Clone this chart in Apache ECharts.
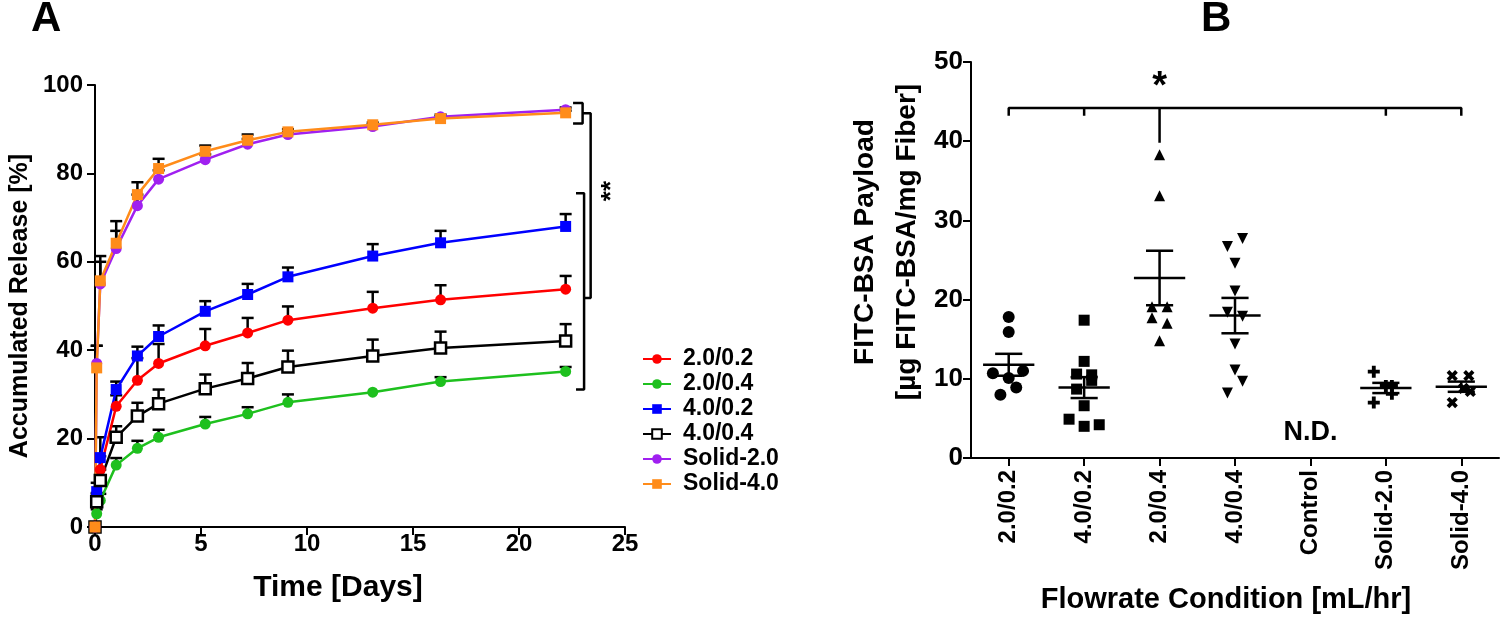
<!DOCTYPE html>
<html>
<head>
<meta charset="utf-8">
<script src="https://cdn.jsdelivr.net/npm/echarts@6/dist/echarts.min.js"></script>
<style>
  html, body { margin: 0; padding: 0; background: #fff; }
  #chart { width: 1500px; height: 622px; }
</style>
</head>
<body>
<div id="chart"></div>
<script>
// panel A: accumulated release over time
var days = [0, 0.08, 0.25, 1, 2, 3, 5.2, 7.2, 9.1, 13.1, 16.3, 22.2];
var red20_02   = [0, 6, 13, 27.3, 33.2, 37.0, 41.0, 43.9, 46.8, 49.5, 51.4, 53.8];
var green20_04 = [0, 3, 6, 14.0, 17.8, 20.3, 23.3, 25.6, 28.2, 30.5, 32.9, 35.2];
var blue40_02  = [0, 8, 15.7, 31.1, 38.7, 43.1, 48.8, 52.6, 56.6, 61.3, 64.3, 68.0];
var black40_04 = [0, 5.7, 10.5, 20.3, 25.1, 27.9, 31.3, 33.6, 36.2, 38.7, 40.5, 42.1];
var solid20    = [0, 37, 55, 63, 72.7, 78.7, 83.1, 86.6, 88.8, 90.6, 92.8, 94.4];
var solid40    = [0, 36, 55.7, 64.2, 75.2, 81.1, 85.0, 87.5, 89.4, 91.0, 92.4, 93.7];

var errRed20_02   = [0, 1.5, 3, 2.5, 5, 4.4, 3.8, 3.4, 3.1, 3.7, 3.3, 3.0];
var errGreen20_04 = [0, 1, 1.5, 1.6, 1.7, 1.7, 1.6, 1.5, 1.8, 0.3, 1.0, 1.0];
var errBlue40_02  = [0, 2, 4.6, 1.8, 2.1, 2.5, 2.3, 2.4, 2.1, 2.7, 2.7, 2.8];
var errBlack40_04 = [0, 2, 2.5, 2.5, 3.0, 3.2, 3.2, 3.5, 3.7, 3.7, 3.7, 3.8];
var errSolid20    = [0, 4, 5, 4, 2.5, 2, 1.2, 1.2, 0.5, 0.5, 0.5, 0.5];
var errSolid40    = [0, 5, 5.6, 5.0, 2.8, 2.2, 1.3, 1.3, 0.6, 0.5, 0.5, 0.5];

// panel B: payload per flowrate condition
var conditions = ['2.0/0.2', '4.0/0.2', '2.0/0.4', '4.0/0.4', 'Control', 'Solid-2.0', 'Solid-4.0'];
var pay20_02 = [17.8, 15.9, 11.0, 10.7, 10.1, 8.9, 8.0];
var pay40_02 = [17.4, 12.2, 10.6, 10.5, 9.8, 8.7, 6.6, 4.9, 4.0, 4.2];
var pay20_04 = [38.3, 33.1, 19.1, 19.1, 17.7, 17.0, 14.8];
var pay40_04 = [27.7, 26.7, 24.6, 21.1, 18.4, 17.9, 14.4, 11.1, 9.7, 8.2];
var payControl = [];
var paySolid20 = [10.9, 9.1, 9.1, 8.1, 7.0];
var paySolid40 = [10.4, 10.4, 8.8, 8.4, 7.0];
// horizontal scatter offsets (category widths)
var jit20_02 = [0, 0, 0.19, -0.21, 0, 0.1, -0.11];
var jit40_02 = [0, 0, -0.1, 0.1, 0.1, -0.1, 0, -0.2, 0, 0.2];
var jit20_04 = [0, 0, -0.1, 0.1, -0.1, 0.1, 0];
var jit40_04 = [0.1, -0.1, 0, 0, -0.1, 0.1, 0, 0, 0.1, -0.1];
var jitSolid20 = [-0.16, 0, 0.08, 0.08, -0.16];
var jitSolid40 = [-0.12, 0.1, 0.03, 0.12, -0.12];

var FONT = '"Liberation Sans", Arial, sans-serif';
var PLUS = 'path://M3.4,0H6.6V3.4H10V6.6H6.6V10H3.4V6.6H0V3.4H3.4Z';
var chart = echarts.init(document.getElementById('chart'));

function lineSeries(name, vals, color, symbol, hollow) {
  return {
    name: name, type: 'line', xAxisIndex: 0, yAxisIndex: 0,
    data: days.map(function (d, i) { return [d, vals[i]]; }),
    symbol: symbol, symbolSize: 11,
    lineStyle: { color: color, width: 2.5 },
    itemStyle: hollow ? { color: '#fff', borderColor: color, borderWidth: 2.5 } : { color: color },
    z: 3, animation: false
  };
}

function errSeries(name, vals, errs) {
  return {
    name: name + ' err', type: 'custom', xAxisIndex: 0, yAxisIndex: 0,
    data: days.map(function (d, i) { return [d, vals[i], vals[i] + errs[i]]; }),
    renderItem: function (params, api) {
      if (api.value(2) - api.value(1) < 0.4) return null;
      var p0 = api.coord([api.value(0), api.value(1)]);
      var p1 = api.coord([api.value(0), api.value(2)]);
      var st = { stroke: '#000', lineWidth: 2.5 };
      return { type: 'group', children: [
        { type: 'line', shape: { x1: p0[0], y1: p0[1], x2: p1[0], y2: p1[1] }, style: st },
        { type: 'line', shape: { x1: p1[0] - 6, y1: p1[1], x2: p1[0] + 6, y2: p1[1] }, style: st }
      ] };
    },
    z: 2, silent: true, animation: false
  };
}

function groupSeries(name, vals, jit, idx, symbol, size, rotate) {
  return {
    name: name, type: 'scatter', xAxisIndex: 2, yAxisIndex: 1,
    data: vals.map(function (v, i) { return [idx + jit[i], v]; }),
    symbol: symbol, symbolSize: size, symbolRotate: rotate || 0,
    itemStyle: { color: '#000', opacity: 1 }, z: 3, animation: false
  };
}

function meanSem(vals) {
  var n = vals.length, m = 0, s = 0;
  vals.forEach(function (v) { m += v; });
  m /= n;
  vals.forEach(function (v) { s += (v - m) * (v - m); });
  return [m, Math.sqrt(s / (n - 1)) / Math.sqrt(n)];
}

var groups = [pay20_02, pay40_02, pay20_04, pay40_04, payControl, paySolid20, paySolid40];
var statData = [];
groups.forEach(function (g, i) {
  if (g.length) { var ms = meanSem(g); statData.push([i, ms[0], ms[1]]); }
});

function bracket(points, xi, yi) {
  return {
    type: 'line', xAxisIndex: xi, yAxisIndex: yi, data: points, symbol: 'none',
    lineStyle: { color: '#000', width: 2.5 }, silent: true, animation: false, z: 4
  };
}

function textMark(text, pos, xi, yi, size, rotate) {
  return {
    type: 'scatter', xAxisIndex: xi, yAxisIndex: yi, data: [pos], symbolSize: 0,
    itemStyle: { opacity: 1 },
    label: { show: true, position: 'inside', formatter: text, rotate: rotate || 0,
      fontFamily: FONT, fontWeight: 'bold', fontSize: size, color: '#000', opacity: 1 },
    silent: true, animation: false
  };
}

var axisLine = { show: true, onZero: false, lineStyle: { color: '#000', width: 2 } };
var axisTick = { show: true, length: 8, lineStyle: { color: '#000', width: 2 } };
var tickFont = { fontFamily: FONT, fontWeight: 'bold', fontSize: 24, color: '#000' };

var option = {
  backgroundColor: '#fff',
  animation: false,
  textStyle: { fontFamily: FONT },
  graphic: [
    { type: 'text', left: 31, top: -2, style: { text: 'A', fontFamily: FONT, fontWeight: 'bold', fontSize: 42, fill: '#000' } },
    { type: 'text', left: 1201, top: -2, style: { text: 'B', fontFamily: FONT, fontWeight: 'bold', fontSize: 42, fill: '#000' } }
  ],
  legend: {
    orient: 'vertical', left: 637, top: 342,
    data: ['2.0/0.2', '2.0/0.4', '4.0/0.2', '4.0/0.4', 'Solid-2.0', 'Solid-4.0'],
    itemWidth: 28, itemHeight: 12, itemGap: 1,
    textStyle: { fontFamily: FONT, fontWeight: 'bold', fontSize: 23, color: '#000', lineHeight: 24, padding: [0, 0, 0, 7] }
  },
  grid: [
    { left: 95, top: 85, width: 530, height: 442 },
    { left: 971, top: 62, width: 528, height: 396 }
  ],
  xAxis: [
    { type: 'value', gridIndex: 0, min: 0, max: 25, interval: 5,
      name: 'Time [Days]', nameLocation: 'middle', nameGap: 46,
      nameTextStyle: { fontFamily: FONT, fontWeight: 'bold', fontSize: 30, color: '#000', padding: [0, 44, 0, 0] },
      axisLine: axisLine, axisTick: axisTick, splitLine: { show: false },
      axisLabel: Object.assign({ margin: 5 }, tickFont) },
    { type: 'category', gridIndex: 1, data: conditions, boundaryGap: true,
      name: 'Flowrate Condition [mL/hr]', nameLocation: 'middle', nameGap: 127,
      nameTextStyle: { fontFamily: FONT, fontWeight: 'bold', fontSize: 29, color: '#000', padding: [0, 18, 0, 0] },
      axisLine: axisLine, axisTick: { show: true, alignWithLabel: true, length: 8, lineStyle: { color: '#000', width: 2 } },
      axisLabel: Object.assign({ rotate: 90, margin: 12, interval: 0 }, tickFont) },
    { type: 'value', gridIndex: 1, min: -0.5, max: 6.5, show: false }
  ],
  yAxis: [
    { type: 'value', gridIndex: 0, min: 0, max: 100, interval: 20,
      name: 'Accumulated Release [%]', nameLocation: 'middle', nameGap: 62, nameRotate: 90,
      nameTextStyle: { fontFamily: FONT, fontWeight: 'bold', fontSize: 25, color: '#000' },
      axisLine: axisLine, axisTick: axisTick, splitLine: { show: false },
      axisLabel: Object.assign({ margin: 12 }, tickFont) },
    { type: 'value', gridIndex: 1, min: 0, max: 50, interval: 10,
      name: 'FITC-BSA Payload\n[\u00b5g FITC-BSA/mg Fiber]', nameLocation: 'middle', nameGap: 43, nameRotate: 90,
      nameTextStyle: { fontFamily: FONT, fontWeight: 'bold', fontSize: 28, color: '#000', lineHeight: 42, padding: [0, 0, 0, 36] },
      axisLine: axisLine, axisTick: axisTick, splitLine: { show: false },
      axisLabel: Object.assign({}, tickFont, { margin: 8, fontSize: 26 }) }
  ],
  series: [
    errSeries('2.0/0.2', red20_02, errRed20_02),
    errSeries('2.0/0.4', green20_04, errGreen20_04),
    errSeries('4.0/0.2', blue40_02, errBlue40_02),
    errSeries('4.0/0.4', black40_04, errBlack40_04),
    errSeries('Solid-2.0', solid20, errSolid20),
    errSeries('Solid-4.0', solid40, errSolid40),
    lineSeries('2.0/0.2', red20_02, '#ff0000', 'circle'),
    lineSeries('2.0/0.4', green20_04, '#1ec01e', 'circle'),
    lineSeries('4.0/0.2', blue40_02, '#0000ff', 'rect'),
    lineSeries('4.0/0.4', black40_04, '#000000', 'rect', true),
    lineSeries('Solid-2.0', solid20, '#a020f0', 'circle'),
    lineSeries('Solid-4.0', solid40, '#ff8c1a', 'rect'),
    bracket([[22.55, 95.9], [23.0, 95.9], [23.0, 91.3], [22.55, 91.3]], 0, 0),
    bracket([[23.0, 93.6], [23.38, 93.6], [23.38, 51.8], [23.07, 51.8]], 0, 0),
    bracket([[22.69, 75.5], [23.07, 75.5], [23.07, 31.1], [22.69, 31.1]], 0, 0),
    textMark('**', [24.4, 76], 0, 0, 26, 90),

    groupSeries('2.0/0.2 pts', pay20_02, jit20_02, 0, 'circle', 12),
    groupSeries('4.0/0.2 pts', pay40_02, jit40_02, 1, 'rect', 11),
    groupSeries('2.0/0.4 pts', pay20_04, jit20_04, 2, 'triangle', 11),
    groupSeries('4.0/0.4 pts', pay40_04, jit40_04, 3, 'triangle', 11, 180),
    groupSeries('Solid-2.0 pts', paySolid20, jitSolid20, 5, PLUS, 12),
    groupSeries('Solid-4.0 pts', paySolid40, jitSolid40, 6, PLUS, 12, 45),
    {
      name: 'mean sem', type: 'custom', xAxisIndex: 2, yAxisIndex: 1, data: statData,
      renderItem: function (params, api) {
        var i = api.value(0), m = api.value(1), s = api.value(2);
        var a = api.coord([i - 0.34, m]), b = api.coord([i + 0.34, m]);
        var t0 = api.coord([i - 0.18, m + s]), t1 = api.coord([i + 0.18, m + s]);
        var b0 = api.coord([i - 0.18, m - s]), b1 = api.coord([i + 0.18, m - s]);
        var st = { stroke: '#000', lineWidth: 2.5 };
        return { type: 'group', children: [
          { type: 'line', shape: { x1: a[0], y1: a[1], x2: b[0], y2: b[1] }, style: st },
          { type: 'line', shape: { x1: t0[0], y1: t0[1], x2: t1[0], y2: t1[1] }, style: st },
          { type: 'line', shape: { x1: b0[0], y1: b0[1], x2: b1[0], y2: b1[1] }, style: st },
          { type: 'line', shape: { x1: (t0[0] + t1[0]) / 2, y1: t0[1], x2: (b0[0] + b1[0]) / 2, y2: b0[1] }, style: st }
        ] };
      },
      z: 4, silent: true, animation: false
    },
    bracket([[0, 43.2], [0, 44.2], [6, 44.2], [6, 43.2]], 2, 1),
    bracket([[1, 44.2], [1, 43.2]], 2, 1),
    bracket([[5, 44.2], [5, 43.2]], 2, 1),
    bracket([[2, 44.2], [2, 39.8]], 2, 1),
    textMark('*', [2, 46.8], 2, 1, 38),
    textMark('N.D.', [4, 3.2], 2, 1, 27)
  ]
};

chart.setOption(option);
</script>
</body>
</html>
